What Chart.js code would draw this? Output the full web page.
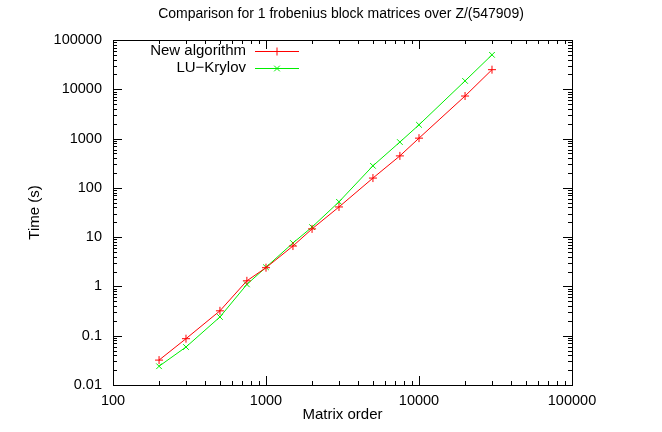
<!DOCTYPE html>
<html>
<head>
<meta charset="utf-8">
<script src="https://cdn.jsdelivr.net/npm/chart.js@4"></script>
<style>
  html, body { margin: 0; padding: 0; background: #fff; }
  #wrap { width: 662px; height: 432px; }
</style>
</head>
<body>
<div id="wrap"><canvas id="logChart" width="662" height="432"></canvas></div>
<script>
// matrix orders and timings (seconds)
const orders = [200, 300, 500, 750, 1000, 1500, 2000, 3000, 5000, 7500, 10000, 20000, 30000];
const newAlgo = [0.032, 0.087, 0.32, 1.3, 2.4, 6.6, 14.7, 41, 158, 445, 1020, 7300, 25000];
const luKrylov = [0.024, 0.059, 0.24, 1.1, 2.45, 7.6, 16, 52, 280, 850, 1900, 14800, 50000];
const xTicks = [100, 1000, 10000, 100000];
const yTicks = [0.01, 0.1, 1, 10, 100, 1000, 10000, 100000];

const FONT = "'Liberation Sans', Arial, sans-serif";

const pts = (ys) => orders.map((x, i) => ({ x: x, y: ys[i] }));

// gnuplot-like frame: border, inward ticks, minor ticks, legend, titles
const frame = {
  id: 'frame',
  afterDraw(chart) {
    const ctx = chart.ctx, a = chart.chartArea;
    const xs = chart.scales.x, ys = chart.scales.y;
    ctx.save();
    ctx.strokeStyle = '#000';
    ctx.lineWidth = 1;
    ctx.strokeRect(a.left + 0.5, a.top + 0.5, a.right - a.left, a.bottom - a.top);

    ctx.beginPath();
    for (let d = 100; d <= 100000; d *= 10) {
      for (let m = 1; m < 10; m++) {
        const v = d * m;
        if (v > 100000) break;
        const len = m === 1 ? 9 : 4;
        const px = Math.round(xs.getPixelForValue(v)) + 0.5;
        ctx.moveTo(px, a.bottom); ctx.lineTo(px, a.bottom - len);
        ctx.moveTo(px, a.top); ctx.lineTo(px, a.top + len);
      }
    }
    for (let d = 0.01; d <= 100000; d *= 10) {
      for (let m = 1; m < 10; m++) {
        const v = d * m;
        if (v > 100001) break;
        const len = m === 1 ? 9 : 4;
        const py = Math.round(ys.getPixelForValue(v)) + 0.5;
        ctx.moveTo(a.left, py); ctx.lineTo(a.left + len, py);
        ctx.moveTo(a.right, py); ctx.lineTo(a.right - len, py);
      }
    }
    ctx.stroke();

    // titles
    ctx.fillStyle = '#000';
    ctx.textAlign = 'center';
    ctx.textBaseline = 'middle';
    ctx.font = '14px ' + FONT;
    ctx.fillText('Comparison for 1 frobenius block matrices over Z/(547909)', 341, 14);
    ctx.font = '15px ' + FONT;
    ctx.fillText('Matrix order', (a.left + a.right) / 2, 415);
    ctx.save();
    ctx.translate(35, (a.top + a.bottom) / 2);
    ctx.rotate(-Math.PI / 2);
    ctx.fillText('Time (s)', 0, 0);
    ctx.restore();

    // legend
    chart.data.datasets.forEach((ds, i) => {
      const y = 51 + i * 17;
      ctx.fillStyle = '#000';
      ctx.textAlign = 'right';
      ctx.fillText(ds.label, 246, y);
      ctx.strokeStyle = ds.borderColor;
      ctx.beginPath();
      ctx.moveTo(255, y + 0.5); ctx.lineTo(299, y + 0.5);
      ctx.stroke();
      Chart.helpers.drawPoint(ctx, { pointStyle: ds.pointStyle, radius: 4, borderWidth: 1 }, 277, y + 0.5);
    });
    ctx.restore();
  }
};

new Chart(document.getElementById('logChart'), {
  type: 'line',
  data: {
    datasets: [
      { label: 'New algorithm', data: pts(newAlgo), borderColor: '#ff0000', backgroundColor: '#ff0000',
        pointStyle: 'cross', pointRadius: 4, pointBorderWidth: 1, borderWidth: 1, tension: 0 },
      { label: 'LU\u2212Krylov', data: pts(luKrylov), borderColor: '#00ee00', backgroundColor: '#00ee00',
        pointStyle: 'crossRot', pointRadius: 4, pointBorderWidth: 1, borderWidth: 1, tension: 0 }
    ]
  },
  options: {
    responsive: false,
    animation: false,
    devicePixelRatio: 1,
    layout: { padding: { top: 40, right: 90, left: 0, bottom: 0 } },
    plugins: { legend: { display: false }, title: { display: false }, tooltip: { enabled: false } },
    scales: {
      x: {
        type: 'logarithmic', min: 100, max: 100000,
        afterBuildTicks: (s) => { s.ticks = xTicks.map(v => ({ value: v })); },
        afterFit: (s) => { s.height = 47; },
        grid: { display: false, drawTicks: false },
        border: { display: false },
        ticks: { color: '#000', font: { family: FONT, size: 14.5 }, padding: 7, maxRotation: 0,
          callback: (v) => String(v) }
      },
      y: {
        type: 'logarithmic', min: 0.01, max: 100000,
        afterBuildTicks: (s) => { s.ticks = yTicks.map(v => ({ value: v })); },
        afterFit: (s) => { s.width = 113; },
        grid: { display: false, drawTicks: false },
        border: { display: false },
        ticks: { color: '#000', font: { family: FONT, size: 14.5 }, padding: 11,
          callback: (v) => String(v) }
      }
    }
  },
  plugins: [frame]
});
</script>
</body>
</html>
